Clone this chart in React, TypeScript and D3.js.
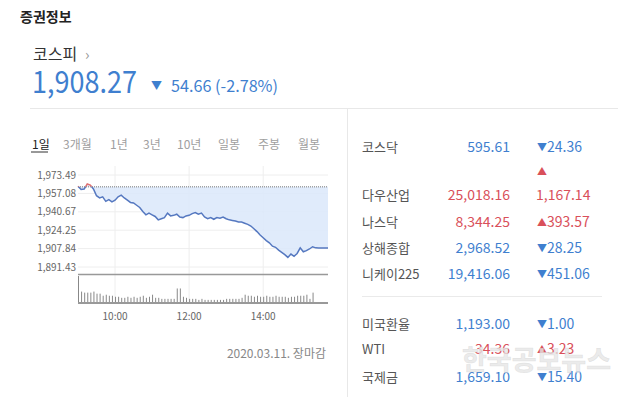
import React, { useEffect } from 'react'
import * as d3 from 'd3'

// 전일 종가 (기준선)
const prevClose = 1962.93
const lastPrice = '1,908.27'
const lastChange = '54.66 (-2.78%)'

const yTickValues = [1891.43, 1907.84, 1924.25, 1940.67, 1957.08, 1973.49]
const xTickLabels = ['10:00', '12:00', '14:00']
const xTickMinutes = [60, 180, 300]

// 5분 간격 지수 (09:00 ~ 15:30), 마지막은 장마감 연장
const priceValues = [
  1963.5, 1960.5, 1961, 1965.5, 1964.5, 1961, 1955, 1953, 1954, 1950,
  1951.5, 1949.5, 1951, 1954, 1955.5, 1953, 1951, 1949, 1948.5, 1946.5,
  1944.5, 1941, 1938, 1939.5, 1938, 1936.5, 1933.5, 1934.5, 1935.5, 1939.5,
  1937, 1937.5, 1938.5, 1936, 1935.5, 1937, 1937.5, 1939, 1940, 1938.5,
  1939.5, 1936, 1934.5, 1935.5, 1934, 1935.5, 1935, 1936, 1934.5, 1933.5,
  1933, 1932.5, 1931.5, 1931.5, 1930.5, 1929.5, 1928, 1925.5, 1923, 1920,
  1917.5, 1915, 1913, 1910, 1909, 1906.5, 1904.5, 1902.5, 1900, 1903,
  1901, 1903.5, 1908.5, 1905, 1906, 1907.5, 1909.5, 1908.5, 1908.27
]
const closeExtendValue = 1908.27

// 5분 거래량 (상대값, 09:00 ~ 15:20)
const volumeValues = [
  26, 11, 10, 10, 10, 11, 9, 9, 7, 8,
  7, 7, 6, 6, 5, 5, 6, 5, 6, 5,
  6, 7, 5, 6, 8, 5, 5, 4, 4, 4,
  4, 4, 14, 14, 6, 5, 4, 4, 4, 3,
  4, 3, 3, 3, 3, 3, 3, 3, 4, 4,
  4, 4, 4, 5, 8, 7, 7, 6, 7, 6,
  6, 7, 6, 6, 7, 6, 6, 6, 5, 6,
  6, 7, 7, 7, 8, 4, 10
]

const periodTabs = ['1일', '3개월', '1년', '3년', '10년', '일봉', '주봉', '월봉']

const worldNames = ['코스닥', '다우산업', '나스닥', '상해종합', '니케이225']
const worldValues = ['595.61', '25,018.16', '8,344.25', '2,968.52', '19,416.06']
const worldChanges = ['24.36', '1,167.14', '393.57', '28.25', '451.06']
const worldUp = [false, true, true, false, false]

const fxNames = ['미국환율', 'WTI', '국제금']
const fxValues = ['1,193.00', '34.36', '1,659.10']
const fxChanges = ['1.00', '3.23', '15.40']
const fxUp = [false, true, false]

const BLUE = '#3f7fcf'
const RED = '#d9505a'
const FONT = "'Noto Sans CJK KR', 'Noto Sans', sans-serif"

const tabX = [32, 63, 110, 143, 177, 218, 258, 298]
const worldRowY = [152, 200, 227, 253, 279]
const fxRowY = [329, 354, 382]

const Row = ({ name, value, change, up, y, wrap }: any) => {
  const c = up ? RED : BLUE
  return (
    <g fontFamily={FONT}>
      <text x={362} y={y} fontSize={13} fill="#555">{name}</text>
      <text x={510} y={y} fontSize={14} fill={c} textAnchor="end">{value}</text>
      {wrap ? (
        <>
          <text x={537} y={y - 25} fontSize={10} fill={c}>▲</text>
          <text x={536} y={y} fontSize={14} fill={c}>{change}</text>
        </>
      ) : (
        <text x={537} y={y} fontSize={14} fill={c}>
          <tspan fontSize={10} dy={-1}>{up ? '▲' : '▼'}</tspan>
          <tspan dy={1}>{change}</tspan>
        </text>
      )}
    </g>
  )
}

export default function App() {
  useEffect(() => {
    document.body.style.margin = '0'
  }, [])

  const W = 630
  const H = 397

  const priceMinutes = priceValues.map((_, i) => i * 5).concat([405])
  const series = priceValues.concat([closeExtendValue]).map((v, i) => ({ t: priceMinutes[i], v }))

  const x = d3.scaleLinear().domain([0, 405]).range([78, 328])
  const y = d3.scaleLinear().domain([1891.43, 1973.49]).range([267, 175])
  const yv = d3.scaleLinear().domain([0, 27]).range([303, 275])

  const yRef = y(prevClose)
  const line = d3.line<{ t: number; v: number }>().x(d => x(d.t)).y(d => y(d.v))
  const area = d3.area<{ t: number; v: number }>().x(d => x(d.t)).y0(yRef).y1(d => y(d.v))

  return (
    <svg width={W} height={H} style={{ display: 'block', background: '#fff' }} fontFamily={FONT}>
      <defs>
        <clipPath id="above">
          <rect x={70} y={150} width={270} height={yRef - 150} />
        </clipPath>
        <clipPath id="below">
          <rect x={70} y={yRef} width={270} height={130} />
        </clipPath>
      </defs>

      {/* 헤더 */}
      <text x={20} y={22} fontSize={14} fontWeight={700} fill="#222">증권정보</text>
      <text x={33} y={60} fontSize={16} fill="#333">코스피</text>
      <text x={85} y={60} fontSize={15} fill="#999">›</text>
      <text x={32} y={93} fontSize={30} fill={BLUE} textLength={105} lengthAdjust="spacingAndGlyphs">{lastPrice}</text>
      <text x={151} y={90} fontSize={11} fill={BLUE}>▼</text>
      <text x={171} y={92} fontSize={16} fill={BLUE} textLength={107} lengthAdjust="spacingAndGlyphs">{lastChange}</text>

      <line x1={30} x2={618} y1={108.5} y2={108.5} stroke="#e8e8e8" />
      <line x1={347.5} x2={347.5} y1={108} y2={H} stroke="#e8e8e8" />

      {/* 기간 탭 */}
      {periodTabs.map((t, i) => (
        <text key={t} x={tabX[i]} y={149} fontSize={12} fill={i === 0 ? '#222' : '#a0a0a0'}>{t}</text>
      ))}
      <line x1={31} x2={48} y1={152} y2={152} stroke="#333" />

      {/* 격자 */}
      {yTickValues.map(v => (
        <g key={v}>
          <line x1={78} x2={328} y1={y(v)} y2={y(v)} stroke="#eeeeee" />
          <text x={76} y={y(v) + 3.5} fontSize={10} fill="#666" textAnchor="end">
            {d3.format(',.2f')(v)}
          </text>
        </g>
      ))}
      {xTickMinutes.map(m => (
        <line key={m} x1={x(m)} x2={x(m)} y1={166} y2={303} stroke="#eeeeee" />
      ))}

      {/* 가격 */}
      <path d={area(series) || ''} fill="#dbe7fa" fillOpacity={0.85} />
      <line x1={78} x2={328} y1={yRef} y2={yRef} stroke="#777" strokeDasharray="1,1" />
      <path d={line(series) || ''} fill="none" stroke="#e07070" strokeWidth={1.5} clipPath="url(#above)" />
      <path d={line(series) || ''} fill="none" stroke="#5578c0" strokeWidth={1.5} clipPath="url(#below)" />

      {/* 거래량 */}
      <line x1={78} x2={328} y1={274.5} y2={274.5} stroke="#999" strokeWidth={1.5} />
      {volumeValues.map((v, i) => (
        <line key={i} x1={x(i * 5) + 0.5} x2={x(i * 5) + 0.5} y1={yv(0)} y2={yv(v)} stroke="#888" />
      ))}
      <line x1={78} x2={328} y1={303} y2={303} stroke="#999" strokeWidth={2} />
      {xTickLabels.map((t, i) => (
        <text key={t} x={x(xTickMinutes[i])} y={320} fontSize={10} fill="#666" textAnchor="middle">{t}</text>
      ))}

      <text x={326} y={358} fontSize={12} fill="#888" textAnchor="end">2020.03.11. 장마감</text>

      {/* 해외 지수 */}
      {worldNames.map((n, i) => (
        <Row key={n} name={n} value={worldValues[i]} change={worldChanges[i]} up={worldUp[i]} y={worldRowY[i]} wrap={i === 1} />
      ))}
      <line x1={362} x2={602} y1={296.5} y2={296.5} stroke="#eaeaea" />
      {fxNames.map((n, i) => (
        <Row key={n} name={n} value={fxValues[i]} change={fxChanges[i]} up={fxUp[i]} y={fxRowY[i]} />
      ))}

      {/* 워터마크 */}
      <text x={462} y={370} fontSize={27} fontWeight={700} fill="#e6e6e6" fillOpacity={0.8} stroke="#cccccc" strokeOpacity={0.5} strokeWidth={0.5}>한국공보뉴스</text>
    </svg>
  )
}
